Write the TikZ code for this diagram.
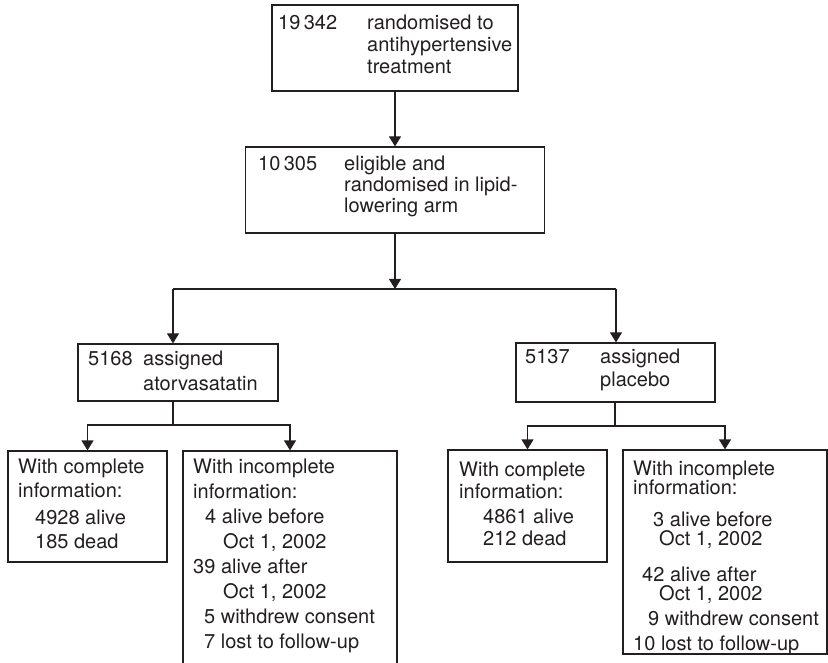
\documentclass[tikz,border=0pt]{standalone}
\usepackage{fontspec}
\setmainfont{TeX Gyre Heros}
\usetikzlibrary{arrows.meta}
\definecolor{ink}{HTML}{231F20}
\begin{document}
\begin{tikzpicture}[x=1pt,y=-1pt,
    box/.style={draw=ink,line width=1.2pt,rectangle,inner sep=0pt},
    txt/.style={inner sep=0pt,anchor=north west,text=ink,font=\fontsize{20}{#1}\selectfont},
    arr/.style={draw=ink,line width=1.2pt,-{Triangle[width=12pt,length=10pt]}},
    lin/.style={draw=ink,line width=1.2pt}]
    % Khung trang
    \clip (0,0) rectangle (828,663);

    % Cac hop
    \node[box,minimum width=246pt,minimum height=86pt] (b1) at (395,48) {};
    \node[box,minimum width=299pt,minimum height=86pt] (b2) at (395,190) {};
    \node[box,minimum width=200pt,minimum height=57pt] (b3) at (178,372.5) {};
    \node[box,minimum width=199pt,minimum height=59pt] (b4) at (615.5,372.5) {};
    \node[box,minimum width=159pt,minimum height=111pt] (b5) at (87.5,506.5) {};
    \node[box,minimum width=214pt,minimum height=239pt] (b6) at (290,570.5) {};
    \node[box,minimum width=159pt,minimum height=112pt] (b7) at (527.5,506) {};
    \node[box,minimum width=204pt,minimum height=204pt] (b8) at (725,552) {};

    % Chu trong hop
    \node[txt=22] (t1) at (278,13.9) {\begin{tabular}{@{}l@{}}
        \makebox[89pt][l]{19\,342}randomised to\\
        \hspace*{89pt}antihypertensive\\
        \hspace*{89pt}treatment\end{tabular}};
    \node[txt=21] (t2) at (258,155.3) {\begin{tabular}{@{}l@{}}
        \makebox[86pt][l]{10\,305}eligible and\\
        \hspace*{86pt}randomised in lipid-\\
        \hspace*{86pt}lowering arm\end{tabular}};
    \node[txt=25] (t3) at (88,347.5) {\begin{tabular}{@{}l@{}}
        \makebox[55pt][l]{5168}assigned\\
        \hspace*{55pt}atorvasatatin\end{tabular}};
    \node[txt=23] (t4) at (525,346.9) {\begin{tabular}{@{}l@{}}
        \makebox[75pt][l]{5137}assigned\\
        \hspace*{75pt}placebo\end{tabular}};
    \node[txt=24] (t5) at (18,456.2) {\begin{tabular}{@{}l@{}}
        With complete\\
        information:\\[3pt]
        \hspace*{17pt}4928 alive\\
        \hspace*{17pt}185 dead\end{tabular}};
    \node[txt=25] (t6) at (193,455.5) {\begin{tabular}{@{}l@{}}
        With incomplete\\
        information:\\
        \hspace*{12pt}4 alive before\\
        \hspace*{30pt}Oct 1, 2002\\
        39 alive after\\
        \hspace*{30pt}Oct 1, 2002\\
        \hspace*{11pt}5 withdrew consent\\
        \hspace*{11pt}7 lost to follow-up\end{tabular}};
    \node[txt=22] (t7) at (459,460.6) {\begin{tabular}{@{}l@{}}
        With complete\\
        information:\\[3pt]
        \hspace*{24pt}4861 alive\\
        \hspace*{24pt}212 dead\end{tabular}};
    \node[txt=24] (t8) at (633,458.2) {\begin{tabular}{@{}l@{}}
        With incomplete\\[-5pt]
        information:\\[8pt]
        \hspace*{20pt}3 alive before\\[-5pt]
        \hspace*{26pt}Oct 1, 2002\\[12pt]
        \hspace*{9pt}42 alive after\\[-5pt]
        \hspace*{26pt}Oct 1, 2002\\[1pt]
        \hspace*{15pt}9 withdrew consent\\[1pt]
        10 lost to follow-up\end{tabular}};

    % Diem re nhanh
    \coordinate (jn) at (395,289);
    \coordinate (jl) at (173,289);
    \coordinate (jr) at (616,289);
    \coordinate (kl) at (173,425);
    \coordinate (kr) at (615,426);

    % Mui ten
    \draw[arr] (b1) -- (b1.south |- b2.north);
    \draw[arr] (b2) -- (jn);
    \draw[lin] (jl) -- (jr);
    \draw[arr] (jl) -- (jl |- b3.north);
    \draw[arr] (jr) -- (jr |- b4.north);
    \draw[lin] (b3.south -| kl) -- (kl);
    \draw[arr] (kl) -| (b5.north);
    \draw[arr] (kl) -| (b6.north);
    \draw[lin] (b4.south -| kr) -- (kr);
    \draw[arr] (kr) -| (b7.north);
    \draw[arr] (kr) -| (b8.north);
\end{tikzpicture}
\end{document}
